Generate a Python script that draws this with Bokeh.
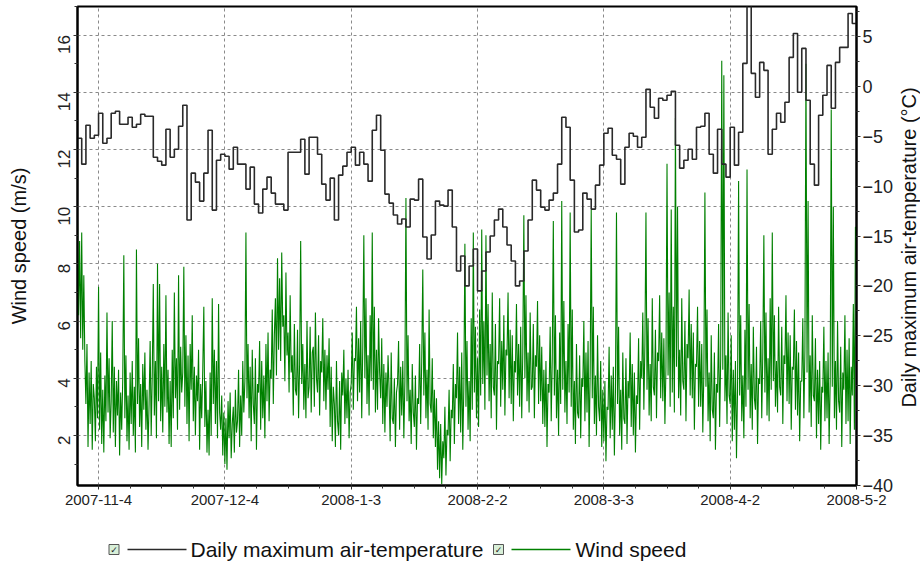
import math
import pandas as pd
from bokeh.plotting import figure
from bokeh.models import Range1d, LinearAxis, FixedTicker, CustomJSTickFormatter
from bokeh.layouts import column, row
from bokeh.embed import file_html
from bokeh.resources import INLINE
from bokeh.core.properties import value

# ---------------- data ----------------
start_date = "2007-10-30"
end_date = "2008-05-02"
tick_dates = ["2007-11-04", "2007-12-04", "2008-01-03", "2008-02-02",
              "2008-03-03", "2008-04-02", "2008-05-02"]
tick_labels = ["2007-11-4", "2007-12-4", "2008-1-3", "2008-2-2",
               "2008-3-3", "2008-4-2", "2008-5-2"]
wind_ticks = [2, 4, 6, 8, 10, 12, 14, 16]
temp_ticks = [-40, -35, -30, -25, -20, -15, -10, -5, 0, 5]
series_names = ["Daily maximum air-temperature", "Wind speed"]
right_title = "Daily maximum air-temperature (\u00b0C)"

# daily maximum air temperature (deg C), one value per day from start_date
temp_max = [
    -5.2, -7.8, -3.9, -5.2, -4.9, -2.7, -5.7, -5.2, -2.7, -2.5,
    -3.8, -3.8, -3.1, -4.1, -3.8, -2.8, -3.0, -3.0, -7.1, -7.5,
    -7.9, -4.3, -7.1, -6.3, -4.0, -1.9, -13.4, -8.7, -9.6, -11.5,
    -8.7, -4.4, -12.4, -7.4, -6.8, -7.0, -8.3, -6.1, -7.8, -7.8,
    -10.3, -8.1, -11.8, -12.7, -10.3, -9.1, -10.7, -11.8, -11.8, -12.4,
    -6.6, -6.6, -6.6, -5.3, -8.8, -5.1, -5.1, -6.8, -9.8, -11.4,
    -9.2, -13.4, -8.9, -8.0, -6.6, -6.1, -7.9, -6.6, -7.8, -9.5,
    -4.4, -2.9, -6.4, -10.8, -11.7, -12.9, -13.8, -13.3, -14.1, -11.3,
    -11.4, -9.3, -15.1, -17.3, -14.9, -11.5, -11.9, -12.0, -10.4, -14.1,
    -18.5, -17.0, -20.0, -18.0, -16.3, -20.5, -18.5, -16.6, -15.0, -13.4,
    -12.3, -14.1, -15.9, -17.5, -20.0, -19.5, -16.5, -13.4, -9.4, -10.4,
    -12.1, -12.4, -11.4, -10.7, -7.8, -3.1, -4.1, -9.4, -14.6, -14.4,
    -10.7, -11.3, -12.3, -9.9, -7.9, -4.7, -4.2, -6.9, -7.3, -9.8,
    -6.1, -4.7, -5.0, -6.1, -5.1, -0.3, -2.1, -3.2, -1.2, -1.4,
    -0.9, -0.5, -5.9, -8.2, -7.4, -6.3, -7.3, -4.1, -4.0, -2.7,
    -6.8, -8.7, -4.3, -7.8, -9.1, -4.1, -7.9, -4.6, 2.3, 8.6,
    1.3, -1.1, 2.4, 1.6, -6.8, -4.3, -2.7, -3.6, -1.6, 2.9,
    5.3, -0.6, 3.8, -1.4, -7.8, -9.9, -2.9, -0.9, 2.1, -2.2,
    2.4, 3.9, 3.9, 7.3, 6.3,
]

# wind speed (m/s), four values per day (every 6 h) from start_date
wind_speed = [
    9.5, 6.2, 8.8, 5.4,  9.1, 5.0, 7.6, 4.6,  3.1, 5.2, 1.6, 4.2,  2.4, 4.6, 1.5, 3.8,
    3.3, 1.8, 4.4, 2.6,  7.2, 2.2, 4.9, 1.7,  3.6, 1.4, 4.1, 2.5,  6.3, 2.8, 4.7, 1.9,
    3.2, 6.0, 2.1, 4.4,  1.6, 3.9, 2.7, 4.3,  1.3, 3.5, 2.2, 4.0,  8.3, 2.6, 4.8, 1.8,
    3.4, 1.5, 4.2, 2.4,  4.6, 2.0, 3.7, 1.4,  8.5, 3.1, 5.4, 2.3,  3.8, 1.6, 4.5, 2.9,
    4.9, 2.2, 3.6, 1.5,  3.1, 5.3, 2.0, 4.1,  7.3, 2.7, 4.6, 1.9,  8.0, 3.2, 7.3, 2.5,
    4.4, 2.1, 5.2, 3.0,  6.9, 2.8, 4.3, 1.7,  3.9, 1.6, 5.0, 2.6,  7.0, 3.3, 4.7, 2.2,
    7.6, 2.9, 5.1, 3.5,  4.2, 7.9, 3.0, 5.5,  2.4, 4.8, 1.8, 5.2,  3.6, 6.2, 2.5, 4.4,
    2.0, 4.1, 3.2, 5.0,  1.5, 3.8, 2.6, 4.3,  6.5, 2.3, 3.9, 1.4,  2.9, 1.3, 4.2, 2.0,
    6.8, 3.1, 5.0, 2.4,  4.6, 1.9, 6.6, 2.8,  2.2, 3.4, 1.3, 2.8,  1.0, 2.6, 0.8, 3.2,
    1.9, 3.5, 1.2, 2.4,  3.0, 1.4, 3.6, 2.1,  2.5, 4.3, 1.6, 3.4,  2.0, 4.6, 2.8, 3.9,
    9.1, 3.3, 5.2, 2.6,  4.4, 1.8, 5.0, 3.1,  2.4, 4.7, 1.5, 3.8,  3.5, 5.3, 2.2, 4.6,
    2.6, 4.1, 1.9, 5.2,  3.2, 5.6, 2.5, 4.3,  4.0, 6.4, 3.1, 5.5,  6.8, 4.1, 8.2, 5.0,
    7.5, 4.6, 8.4, 5.8,  6.2, 3.9, 7.7, 4.8,  5.6, 3.5, 6.9, 4.2,  4.8, 2.7, 5.9, 3.6,
    3.4, 5.7, 2.6, 4.5,  8.8, 3.8, 5.2, 2.9,  4.5, 2.6, 6.0, 3.3,  3.7, 5.8, 2.8, 4.9,
    5.1, 3.0, 6.3, 4.0,  3.5, 5.5, 2.7, 4.6,  4.2, 6.1, 3.2, 5.0,  2.9, 4.8, 3.6, 5.4,
    2.3, 4.4, 1.8, 3.7,  3.1, 1.6, 4.6, 2.5,  2.0, 3.9, 1.5, 4.2,  3.4, 5.0, 2.4, 4.0,
    2.6, 4.3, 1.9, 3.5,  3.8, 5.6, 2.9, 4.7,  4.6, 6.5, 3.2, 5.4,  3.5, 6.0, 2.6, 5.1,
    9.0, 4.0, 6.8, 3.1,  4.8, 2.7, 6.2, 3.9,  9.1, 3.6, 6.5, 2.8,  5.0, 2.9, 6.1, 4.2,
    3.3, 5.4, 2.4, 4.5,  2.1, 4.2, 3.0, 4.8,  3.6, 1.8, 4.9, 2.6,  2.4, 4.0, 1.6, 3.5,
    3.8, 5.3, 2.2, 4.4,  2.7, 4.6, 1.9, 3.9,  10.3, 3.2, 5.5, 2.5,  3.6, 1.7, 4.5, 2.8,
    2.3, 4.1, 1.5, 3.3,  3.1, 5.2, 2.4, 4.6,  7.8, 3.4, 5.6, 2.6,  4.3, 2.2, 6.4, 3.1,
    2.8, 4.7, 1.9, 3.6,  1.6, 3.3, 0.8, 2.5,  0.5, 2.4, 0.3, 1.8,  1.2, 3.0, 0.6, 2.2,
    2.0, 3.6, 1.1, 2.9,  2.6, 4.5, 1.7, 3.8,  3.3, 5.6, 2.4, 4.4,  2.1, 4.9, 1.5, 3.7,
    8.7, 3.0, 5.3, 2.2,  3.9, 1.8, 6.1, 2.9,  9.1, 3.5, 5.8, 2.6,  4.7, 2.3, 6.4, 3.4,
    9.2, 3.8, 6.0, 2.9,  9.0, 4.1, 6.6, 3.2,  5.2, 2.6, 7.0, 3.7,  3.4, 5.9, 2.2, 4.6,
    4.5, 6.8, 3.0, 5.3,  3.6, 6.2, 2.7, 5.0,  4.8, 7.0, 3.3, 5.7,  3.1, 5.5, 2.5, 4.6,
    4.2, 6.6, 3.4, 5.2,  3.0, 5.8, 2.6, 4.9,  9.7, 4.0, 6.9, 3.2,  4.9, 2.8, 6.3, 3.6,
    3.7, 5.9, 2.6, 4.8,  4.4, 6.7, 3.1, 5.5,  3.2, 5.1, 2.4, 4.3,  2.3, 4.6, 1.6, 3.8,
    3.5, 5.8, 2.5, 4.7,  9.5, 3.4, 6.2, 2.6,  4.3, 2.0, 5.6, 3.1,  10.2, 3.6, 6.7, 2.8,
    4.6, 2.4, 5.9, 3.5,  9.8, 3.0, 6.4, 2.2,  3.9, 1.7, 5.2, 2.8,  2.6, 4.8, 1.9, 4.0,
    3.7, 6.0, 2.5, 4.9,  2.8, 5.3, 1.6, 4.2,  9.9, 3.3, 6.5, 2.4,  4.1, 2.0, 5.5, 3.0,
    2.5, 4.6, 1.6, 3.6,  1.8, 3.9, 1.1, 3.0,  2.9, 5.1, 1.9, 4.1,  2.2, 4.4, 1.3, 3.5,
    9.8, 3.1, 5.8, 2.0,  3.6, 1.5, 4.9, 2.6,  2.4, 4.7, 1.7, 3.9,  3.3, 5.6, 2.3, 4.5,
    2.0, 4.2, 1.4, 3.4,  3.1, 5.4, 2.2, 4.6,  4.0, 6.3, 2.9, 5.2,  9.8, 3.6, 6.1, 2.7,
    4.5, 2.5, 6.8, 3.7,  3.4, 5.7, 2.6, 4.9,  4.6, 6.9, 3.3, 5.6,  3.2, 5.4, 2.4, 4.4,
    11.5, 4.1, 7.0, 3.0,  9.9, 3.5, 6.5, 2.8,  13.1, 4.4, 10.0, 3.3,  5.0, 2.7, 6.8, 3.9,
    3.6, 6.0, 2.5, 5.2,  4.7, 7.1, 3.4, 5.9,  3.3, 5.6, 2.2, 4.5,  4.4, 6.5, 3.0, 5.3,
    3.0, 5.2, 2.1, 4.2,  10.5, 3.7, 6.4, 2.5,  4.2, 1.8, 5.5, 2.9,  2.6, 4.9, 1.5, 3.8,
    3.5, 5.9, 2.3, 4.7,  15.1, 4.3, 14.6, 3.2,  4.8, 2.4, 6.3, 3.4,  3.1, 5.5, 1.8, 4.3,
    2.2, 4.6, 1.2, 3.6,  10.9, 3.4, 6.2, 2.5,  4.1, 1.9, 5.7, 3.0,  11.3, 3.6, 6.6, 2.6,
    4.5, 2.2, 5.8, 3.3,  2.9, 5.1, 1.7, 4.0,  3.8, 6.0, 2.6, 4.9,  9.0, 3.5, 6.3, 2.7,
    4.7, 2.5, 6.8, 3.6,  9.1, 3.9, 6.2, 3.0,  4.6, 2.8, 6.5, 3.7,  3.4, 5.8, 2.4, 4.8,
    4.5, 6.9, 3.2, 5.6,  3.1, 5.5, 2.2, 4.4,  4.3, 6.4, 2.9, 5.3,  2.7, 4.9, 1.8, 3.9,
    3.9, 6.1, 2.6, 5.0,  15.0, 4.2, 10.2, 2.8,  4.8, 2.3, 6.2, 3.4,  3.2, 5.4, 1.9, 4.3,
    2.4, 4.6, 1.5, 3.7,  3.5, 5.8, 2.5, 4.6,  2.6, 4.9, 1.7, 3.9,  13.4, 3.7, 10.0, 2.6,
    4.6, 2.2, 6.0, 3.2,  2.8, 5.1, 1.6, 4.2,  3.6, 6.2, 2.4, 5.0,  2.5, 5.4, 1.7, 4.4,
    3.4, 6.6, 2.2, 9.3,
]

# ---------------- derived positions ----------------
t0 = pd.Timestamp(start_date)
t_end = pd.Timestamp(end_date)
temp_x = list(pd.date_range(t0, periods=len(temp_max), freq="D")) + [t_end]
temp_y = temp_max + [temp_max[-1]]
wind_x = pd.date_range(t0, periods=len(wind_speed), freq="6h")

def ms(ts):
    return pd.Timestamp(ts).value // 10**6

major_ms = [ms(d) for d in tick_dates]
step_ms = major_ms[1] - major_ms[0]
minor_ms = []
for m in major_ms:
    for k in range(-3, 4):
        v = m + k * step_ms // 4
        if ms(t0) <= v <= ms(t_end) and v not in minor_ms:
            minor_ms.append(v)

FONT = "Liberation Sans"
GREEN = "#008000"
DARK = "#2a2a2a"
W_TOTAL, H_MAIN, H_LEG = 920, 520, 46
TITLE_W = 24
FRAME_L, FRAME_R = 77, 856
FRAME_T, FRAME_B = 6, 485
MAIN_W = W_TOTAL - TITLE_W

p = figure(width=MAIN_W, height=H_MAIN, x_axis_type="datetime",
           x_range=Range1d(t0, t_end), y_range=Range1d(0.25, 17.0),
           toolbar_location=None, output_backend="svg",
           min_border_left=FRAME_L, min_border_right=MAIN_W - FRAME_R,
           min_border_top=FRAME_T, min_border_bottom=H_MAIN - FRAME_B)
p.extra_y_ranges = {"temp": Range1d(-40, 8)}

p.outline_line_color = "black"
p.outline_line_width = 2
p.background_fill_color = "white"
p.border_fill_color = "white"

# x axis
xax = p.xaxis[0]
xax.ticker = FixedTicker(ticks=major_ms, minor_ticks=minor_ms)
xax.formatter = CustomJSTickFormatter(args=dict(tick_pos=major_ms, tick_text=tick_labels), code="""
    let best = 0;
    for (let i = 0; i < tick_pos.length; i++) {
        if (Math.abs(tick_pos[i] - tick) < Math.abs(tick_pos[best] - tick)) best = i;
    }
    return tick_text[best];
""")

# left axis
yax = p.yaxis[0]
yax.ticker = FixedTicker(ticks=wind_ticks, minor_ticks=list(range(1, 18)))
yax.axis_label = "Wind speed (m/s)"
yax.major_label_orientation = math.pi / 2
yax.axis_label_standoff = 20
yax.major_label_standoff = 9

# right axis (its title is drawn in the narrow strip to the right)
rax = LinearAxis(y_range_name="temp",
                 ticker=FixedTicker(ticks=temp_ticks,
                                    minor_ticks=[t + 2.5 * k for t in temp_ticks for k in (0, 1)]))
rax.major_label_standoff = 2
p.add_layout(rax, "right")

for ax in [xax, yax, rax]:
    ax.axis_line_color = "black"
    ax.axis_line_width = 2
    ax.major_tick_in = 0
    ax.major_tick_out = 4
    ax.minor_tick_in = 0
    ax.minor_tick_out = 3
    ax.major_tick_line_color = "#333333"
    ax.minor_tick_line_color = "#333333"
    ax.major_label_text_font = FONT
    ax.major_label_text_color = "#222222"
    ax.axis_label_text_font = FONT
    ax.axis_label_text_font_style = "normal"
    ax.axis_label_text_font_size = "20px"
    ax.axis_label_text_color = "#111111"
xax.major_label_text_font_size = "15px"
xax.major_label_standoff = 5
yax.major_label_text_font_size = "17px"
rax.major_label_text_font_size = "18px"

# grids
p.xgrid.ticker = FixedTicker(ticks=major_ms)
for g in [p.xgrid[0], p.ygrid[0]]:
    g.grid_line_color = "#8a8a8a"
    g.grid_line_dash = "3 3"
    g.grid_line_width = 1

# data
p.line(wind_x, wind_speed, line_color=GREEN, line_width=1.1)
p.step(temp_x, temp_y, mode="after", line_color=DARK, line_width=1.6, y_range_name="temp")

# ---------------- right-hand title strip ----------------
tfig = figure(width=TITLE_W, height=H_MAIN, x_range=Range1d(0, TITLE_W), y_range=Range1d(0, 1),
              toolbar_location=None, output_backend="svg",
              x_axis_location=None, y_axis_location=None,
              min_border_left=0, min_border_right=0,
              min_border_top=FRAME_T, min_border_bottom=H_MAIN - FRAME_B)
tfig.grid.visible = False
tfig.outline_line_color = None
tfig.text(x=[TITLE_W / 2], y=[0.497], text=[right_title], angle=math.pi / 2,
          text_align="center", text_baseline="middle", text_font=value(FONT),
          text_font_size="20px", text_color="#111111")

# ---------------- legend strip ----------------
leg = figure(width=W_TOTAL, height=H_LEG, x_range=Range1d(FRAME_L, FRAME_R), y_range=Range1d(0, H_LEG),
             toolbar_location=None, output_backend="svg",
             x_axis_location=None, y_axis_location=None,
             min_border_left=FRAME_L, min_border_right=W_TOTAL - FRAME_R,
             min_border_top=0, min_border_bottom=0)
leg.grid.visible = False
leg.outline_line_color = None
box_x = [113.5, 498]
line_x0 = [127, 511]
line_x1 = [186, 570]
text_x = [190, 575]
row_y = [17, 17]
leg.scatter(box_x, row_y, marker="square", size=10,
            fill_color="#d8efd8", line_color="#555555", line_width=1)
leg.text(x=box_x, y=row_y, text=["\u2713", "\u2713"], text_align="center",
         text_baseline="middle", text_font=value("DejaVu Sans"),
         text_font_size="9px", text_color="#222222")
leg.segment(x0=line_x0, y0=row_y, x1=line_x1, y1=row_y,
            line_color=[DARK, GREEN], line_width=1.4)
leg.text(x=text_x, y=row_y, text=series_names, text_baseline="middle",
         text_font=value(FONT), text_font_size="21px", text_color="#111111")

layout = column(row(p, tfig), leg)
open("out.html", "w").write(file_html(layout, INLINE))
